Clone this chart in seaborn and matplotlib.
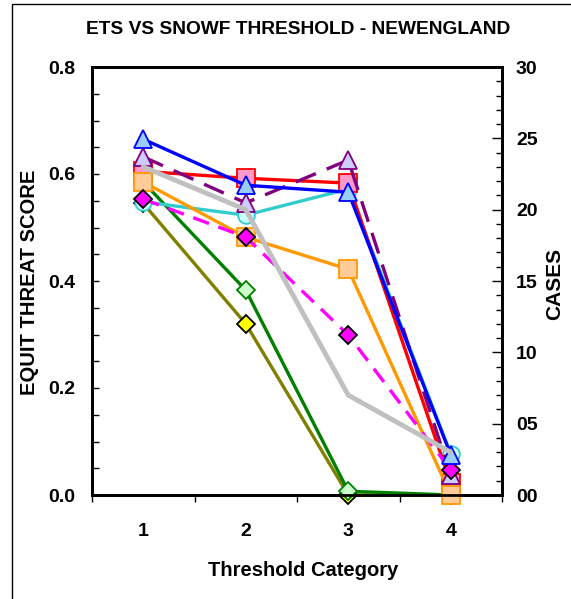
import matplotlib
matplotlib.use("Agg")
import matplotlib.pyplot as plt
import seaborn as sns
import numpy as np
import pandas as pd
from matplotlib.ticker import MultipleLocator, FixedLocator, FuncFormatter, NullFormatter
from matplotlib.patches import Rectangle

# ---------------- data ----------------
categories = [1, 2, 3, 4]
ets_blue    = [0.665, 0.579, 0.566, 0.075]
ets_red     = [0.605, 0.592, 0.583, 0.022]
ets_purple  = [0.632, 0.546, 0.626, 0.037]
ets_cyan    = [0.548, 0.523, 0.572, 0.077]
ets_orange  = [0.585, 0.482, 0.422, 0.000]
ets_magenta = [0.553, 0.482, 0.299, 0.047]
ets_green   = [0.585, 0.383, 0.007, 0.000]
ets_olive   = [0.545, 0.320, 0.000, 0.000]
cases       = [23, 20, 7, 3]

left_ticks = [0.0, 0.2, 0.4, 0.6, 0.8]
right_ticks = [0, 5, 10, 15, 20, 25, 30]
x_labels = ["1", "2", "3", "4"]

sns.set_style("white")
plt.rcParams["font.family"] = ["Liberation Sans", "DejaVu Sans"]
plt.rcParams["font.weight"] = "bold"
for k in ["text.color", "axes.labelcolor", "xtick.color", "ytick.color"]:
    plt.rcParams[k] = "#000000"

fig = plt.figure(figsize=(5.71, 5.99), dpi=100)
ax = fig.add_axes([92/571, 1-495/599, 410/571, 428/599])

series = [
    # values, line color, linestyle, marker, face, edge, ms
    (ets_olive,   "#808000", "-",  "D", "#FFFF00", "#000000", 9),
    (ets_green,   "#008000", "-",  "D", "#CCFFCC", "#008000", 9),
    (ets_cyan,    "#33CCCC", "-",  "o", "#CCFFFF", "#33CCCC", 12),
    (ets_red,     "#FF0000", "-",  "s", "#FF99CC", "#FF0000", 12.5),
    (ets_orange,  "#FF9900", "-",  "s", "#FFCC99", "#FF9900", 12.5),
    (ets_purple,  "#800080", (0, (6.5, 3.5)), "^", "#CCCCFF", "#800080", 13),
    (ets_magenta, "#FF00FF", (0, (5, 3)), "D", "#FF00FF", "#000000", 9),
    (ets_blue,    "#0000FF", "-",  "^", "#99CCFF", "#0000FF", 13),
]

for i, (vals, col, ls, mk, fc, ec, ms) in enumerate(series):
    df = pd.DataFrame({"cat": categories, "ets": vals})
    sns.lineplot(data=df, x="cat", y="ets", ax=ax, color=col, linestyle=ls,
                 linewidth=2.4, marker=mk, markersize=ms, markerfacecolor=fc,
                 markeredgecolor=ec, markeredgewidth=1.3, sort=False,
                 errorbar=None, zorder=3 + i, clip_on=False)

ax.set_xlim(0.5, 4.5)
ax.set_ylim(0, 0.8)
ax.xaxis.set_major_locator(FixedLocator([0.5, 1.5, 2.5, 3.5, 4.5]))
ax.xaxis.set_major_formatter(NullFormatter())
ax.xaxis.set_minor_locator(FixedLocator(categories))
ax.set_xticklabels(x_labels, minor=True)
ax.tick_params(axis="x", which="major", direction="out", length=5, width=1, bottom=True)
ax.tick_params(axis="x", which="minor", length=0, pad=20, labelsize=14)
for lbl in ax.get_xticklabels(minor=True):
    lbl.set_fontweight("bold")

ax.yaxis.set_major_locator(FixedLocator(left_ticks))
ax.yaxis.set_minor_locator(MultipleLocator(0.05))
ax.yaxis.set_major_formatter(FuncFormatter(lambda v, p: f"{v:.1f}"))
ax.tick_params(axis="y", which="both", direction="in", length=5, width=1, left=True, labelsize=14, pad=12)
for lbl in ax.get_yticklabels():
    lbl.set_fontweight("bold")

ax.set_xlabel("")
ax.set_ylabel("")

for sp in ax.spines.values():
    sp.set_linewidth(2)
    sp.set_color("#000000")

ax2 = ax.twinx()
df2 = pd.DataFrame({"cat": categories, "cases": cases})
sns.lineplot(data=df2, x="cat", y="cases", ax=ax2, color="#C0C0C0", linewidth=3.5,
             sort=False, errorbar=None, zorder=5)
ax2.set_ylim(0, 30)
ax2.yaxis.set_major_locator(FixedLocator(right_ticks))
ax2.yaxis.set_minor_locator(MultipleLocator(1))
ax2.yaxis.set_major_formatter(FuncFormatter(lambda v, p: f"{int(v):02d}"))
ax2.tick_params(axis="y", which="major", direction="in", length=7, width=1, right=True, labelsize=14, pad=10)
ax2.tick_params(axis="y", which="minor", direction="in", length=4, width=1, right=True)
for lbl in ax2.get_yticklabels():
    lbl.set_fontweight("bold")
ax2.set_ylabel("")
ax2.set_xlabel("")
for sp in ax2.spines.values():
    sp.set_linewidth(2)
    sp.set_color("#000000")

fig.text(30/571, 1-282/599, "EQUIT THREAT SCORE", rotation=90, ha="center", va="center",
         fontsize=14.5, fontweight="bold")
fig.text(555/571, 1-284/599, "CASES", rotation=90, ha="center", va="center",
         fontsize=15, fontweight="bold")
fig.text(303/571, 1-570/599, "Threshold Category", ha="center", va="center",
         fontsize=14.5, fontweight="bold")
fig.text(298/571, 1-29/599, "ETS VS SNOWF THRESHOLD - NEWENGLAND", ha="center", va="center",
         fontsize=13.8, fontweight="bold")

fig.patches.append(Rectangle((12/571, -0.01), 1.0, 1 - 4/599 + 0.01, transform=fig.transFigure,
                             fill=False, edgecolor="#000000", linewidth=1))

fig.savefig("out.png", dpi=100)
